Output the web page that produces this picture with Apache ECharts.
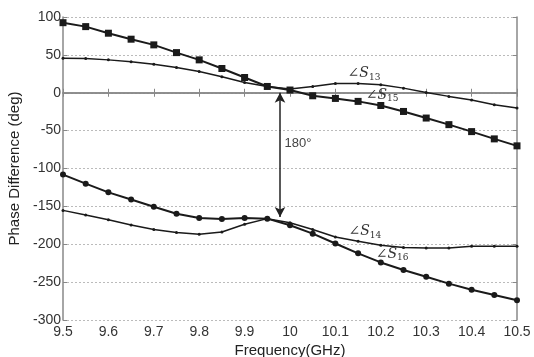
<!DOCTYPE html>
<html>
<head>
<meta charset="utf-8">
<script src="https://cdn.jsdelivr.net/npm/echarts@6/dist/echarts.min.js"></script>
<style>
  html, body { margin: 0; padding: 0; background: #fff; }
  #chart { width: 534px; height: 357px; }
</style>
</head>
<body>
<div id="chart"></div>
<script>
// frequency points (GHz)
var freq = [9.5, 9.55, 9.6, 9.65, 9.7, 9.75, 9.8, 9.85, 9.9, 9.95, 10,
            10.05, 10.1, 10.15, 10.2, 10.25, 10.3, 10.35, 10.4, 10.45, 10.5];

// phase differences (deg)
var s13 = [45.4, 45.1, 43.4, 40.8, 37.7, 33.4, 28, 21, 13.5, 8.3, 4.8,
           8.3, 12.2, 12.2, 10.6, 6.1, 0.4, -4.8, -9.7, -15.8, -20.1];
var s15 = [92.5, 87.3, 78.6, 70.7, 63.2, 53, 43.4, 32, 20.1, 8.3, 3.6,
           -4, -7.5, -11.4, -16.8, -24.7, -33.4, -42.1, -51.3, -60.9, -70.1];
var s14 = [-155.3, -161.5, -167.6, -174.5, -180.6, -184.6, -186.8, -183.8, -173.7, -166.2, -171.5,
           -180.6, -190.4, -196.1, -201.3, -204.3, -204.9, -204.9, -202.6, -202.6, -202.6];
var s16 = [-108, -120, -131.5, -141, -150.5, -159.7, -165.4, -166.7, -165.4, -166.2, -175,
           -186, -199, -212, -224, -234, -243, -252, -260, -267, -274];

var yTicks = { min: -300, max: 100, interval: 50 };
var xTicks = { min: 9.5, max: 10.5, interval: 0.1 };

function pairs(ys) {
  return freq.map(function (f, i) { return [f, ys[i]]; });
}

// subscript-style label like ∠S13
function angLabel(sub) {
  return {
    show: true,
    formatter: '{a|∠S}{b|' + sub + '}',
    rich: {
      a: { fontFamily: 'DejaVu Serif', fontStyle: 'italic', fontSize: 14, color: '#333' },
      b: { fontFamily: 'DejaVu Serif', fontSize: 9, color: '#333', padding: [8, 0, 0, 0] }
    }
  };
}

var myChart = echarts.init(document.getElementById('chart'));

var lineColor = '#1a1a1a';
var axisColor = '#888';

option = {
  animation: false,
  backgroundColor: '#fff',
  grid: { left: 63, right: 17, top: 17, bottom: 37, outerBoundsMode: 'none' },
  xAxis: [{
    type: 'value',
    min: xTicks.min, max: xTicks.max, interval: xTicks.interval,
    name: 'Frequency(GHz)',
    nameLocation: 'middle',
    nameGap: 23,
    nameMoveOverlap: false,
    nameTextStyle: { fontFamily: 'Liberation Sans', fontSize: 15, color: '#222' },
    axisLine: { lineStyle: { color: axisColor, width: 1.5 } },
    axisTick: { inside: true, length: 4, lineStyle: { color: axisColor } },
    axisLabel: { fontFamily: 'Liberation Sans', fontSize: 14, color: '#333', margin: 5,
      formatter: function (v) { return +v.toFixed(1) + ''; } },
    splitLine: { show: false }
  }, {
    type: 'value', position: 'top',
    min: xTicks.min, max: xTicks.max, interval: xTicks.interval,
    axisLine: { show: true, lineStyle: { color: axisColor, width: 1.5 } },
    axisTick: { inside: true, length: 4, lineStyle: { color: axisColor } },
    axisLabel: { show: false },
    splitLine: { show: false }
  }],
  yAxis: [{
    type: 'value',
    min: yTicks.min, max: yTicks.max, interval: yTicks.interval,
    name: 'Phase Difference (deg)',
    nameLocation: 'middle',
    nameGap: 40,
    nameTextStyle: { fontFamily: 'Liberation Sans', fontSize: 15, color: '#222' },
    axisLine: { show: true, lineStyle: { color: axisColor, width: 1.5 } },
    axisTick: { show: true, inside: true, length: 4, lineStyle: { color: axisColor } },
    axisLabel: { fontFamily: 'Liberation Sans', fontSize: 14, color: '#333', margin: 2 },
    splitLine: { show: true, lineStyle: { color: '#bbb', type: [2, 2], width: 1 } }
  }, {
    type: 'value', position: 'right',
    min: yTicks.min, max: yTicks.max, interval: yTicks.interval,
    axisLine: { show: true, lineStyle: { color: axisColor, width: 1.5 } },
    axisTick: { show: true, inside: true, length: 4, lineStyle: { color: axisColor } },
    axisLabel: { show: false },
    splitLine: { show: false }
  }],
  series: [{
    name: 'S13', type: 'line', data: pairs(s13),
    symbol: 'circle', symbolSize: 3,
    lineStyle: { color: lineColor, width: 1.5 },
    itemStyle: { color: lineColor },
    markPoint: {
      symbolSize: 0,
      data: [{ coord: [10.163, 25], label: angLabel('13') }]
    }
  }, {
    name: 'S15', type: 'line', data: pairs(s15),
    symbol: 'rect', symbolSize: 7,
    lineStyle: { color: lineColor, width: 2 },
    itemStyle: { color: lineColor },
    markPoint: {
      symbolSize: 0,
      data: [{ coord: [10.203, -3], label: angLabel('15') }]
    },
    markLine: {
      silent: true,
      symbol: ['arrow', 'arrow'],
      symbolSize: [8, 10],
      lineStyle: { color: '#222', width: 1.5, type: 'solid' },
      label: {
        show: true, position: 'middle', formatter: '180°',
        fontFamily: 'Liberation Sans', fontSize: 13, color: '#444',
        rotate: 0, offset: [18, 0]
      },
      data: [[{ coord: [9.978, 0] }, { coord: [9.978, -164] }]]
    }
  }, {
    name: 'S14', type: 'line', data: pairs(s14),
    symbol: 'circle', symbolSize: 3,
    lineStyle: { color: lineColor, width: 1.5 },
    itemStyle: { color: lineColor },
    markPoint: {
      symbolSize: 0,
      data: [{ coord: [10.165, -183], label: angLabel('14') }]
    }
  }, {
    name: 'S16', type: 'line', data: pairs(s16),
    symbol: 'circle', symbolSize: 6,
    lineStyle: { color: lineColor, width: 2 },
    itemStyle: { color: lineColor },
    markPoint: {
      symbolSize: 0,
      data: [{ coord: [10.225, -213], label: angLabel('16') }]
    }
  }]
};

myChart.setOption(option);
</script>
</body>
</html>
